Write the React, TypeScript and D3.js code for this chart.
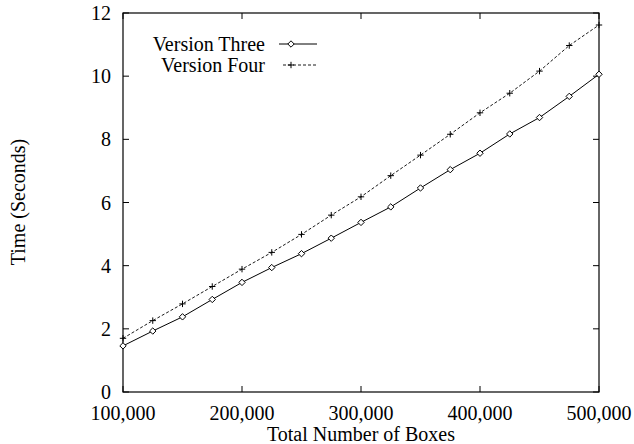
import * as d3 from 'd3';

const boxes = [100000, 125000, 150000, 175000, 200000, 225000, 250000, 275000, 300000, 325000, 350000, 375000, 400000, 425000, 450000, 475000, 500000];
const versionThree = [1.46, 1.93, 2.38, 2.93, 3.47, 3.94, 4.38, 4.87, 5.37, 5.86, 6.46, 7.04, 7.56, 8.17, 8.69, 9.36, 10.06];
const versionFour = [1.70, 2.26, 2.79, 3.34, 3.89, 4.42, 4.99, 5.60, 6.18, 6.85, 7.50, 8.16, 8.84, 9.46, 10.16, 10.97, 11.62];
const xTicks = [100000, 200000, 300000, 400000, 500000];
const yTicks = [0, 2, 4, 6, 8, 10, 12];

const W = 634;
const H = 444;
const left = 123, right = 599, top = 13, bottom = 392;
const font = 'Liberation Serif';

function diamond(x: number, y: number, r = 3.2) {
  return `M${x},${y - r}L${x + r},${y}L${x},${y + r}L${x - r},${y}Z`;
}
function plus(x: number, y: number, r = 3.2) {
  return `M${x - r},${y}H${x + r}M${x},${y - r}V${y + r}`;
}

export default function App() {
  const x = d3.scaleLinear().domain([100000, 500000]).range([left, right]);
  const y = d3.scaleLinear().domain([0, 12]).range([bottom, top]);
  const line = d3.line<number>().x((_, i) => x(boxes[i])).y(d => y(d));
  const fmt = d3.format(',');
  const tick = 6;

  return (
    <svg width={W} height={H} style={{ position: 'absolute', left: 0, top: 0, background: '#fff' }}>
      <g fontFamily={font} fontSize={20}>
        <rect x={left} y={top} width={right - left} height={bottom - top} fill="none" stroke="#000" strokeWidth={1.2} />
        {xTicks.map(t => (
          <g key={'x' + t}>
            <line x1={x(t)} x2={x(t)} y1={bottom} y2={bottom - tick} stroke="#000" />
            <line x1={x(t)} x2={x(t)} y1={top} y2={top + tick} stroke="#000" />
            <text x={x(t)} y={420} textAnchor="middle">{fmt(t)}</text>
          </g>
        ))}
        {yTicks.map(t => (
          <g key={'y' + t}>
            <line x1={left} x2={left + tick} y1={y(t)} y2={y(t)} stroke="#000" />
            <line x1={right} x2={right - tick} y1={y(t)} y2={y(t)} stroke="#000" />
            <text x={111} y={y(t)} dy="0.35em" textAnchor="end">{t}</text>
          </g>
        ))}
        <text x={(left + right) / 2} y={441} textAnchor="middle">Total Number of Boxes</text>
        <text transform={`translate(25,202) rotate(-90)`} textAnchor="middle">Time (Seconds)</text>

        {/* series */}
        <path d={line(versionFour) || ''} fill="none" stroke="#000" strokeWidth={0.9} strokeDasharray="3,2" />
        {versionFour.map((v, i) => (
          <path key={'f' + i} d={plus(x(boxes[i]), y(v))} stroke="#000" strokeWidth={1} />
        ))}
        <path d={line(versionThree) || ''} fill="none" stroke="#000" strokeWidth={1} />
        {versionThree.map((v, i) => (
          <path key={'t' + i} d={diamond(x(boxes[i]), y(v))} fill="#fff" stroke="#000" strokeWidth={1} />
        ))}

        {/* legend */}
        <text x={265} y={44} dy="0.35em" textAnchor="end">Version Three</text>
        <line x1={279} x2={317} y1={44} y2={44} stroke="#000" />
        <path d={diamond(291, 44)} fill="#fff" stroke="#000" />
        <text x={265} y={65} dy="0.35em" textAnchor="end">Version Four</text>
        <line x1={283} x2={317} y1={65} y2={65} stroke="#000" strokeWidth={0.9} strokeDasharray="3,2" />
        <path d={plus(291, 65)} stroke="#000" />
      </g>
    </svg>
  );
}
